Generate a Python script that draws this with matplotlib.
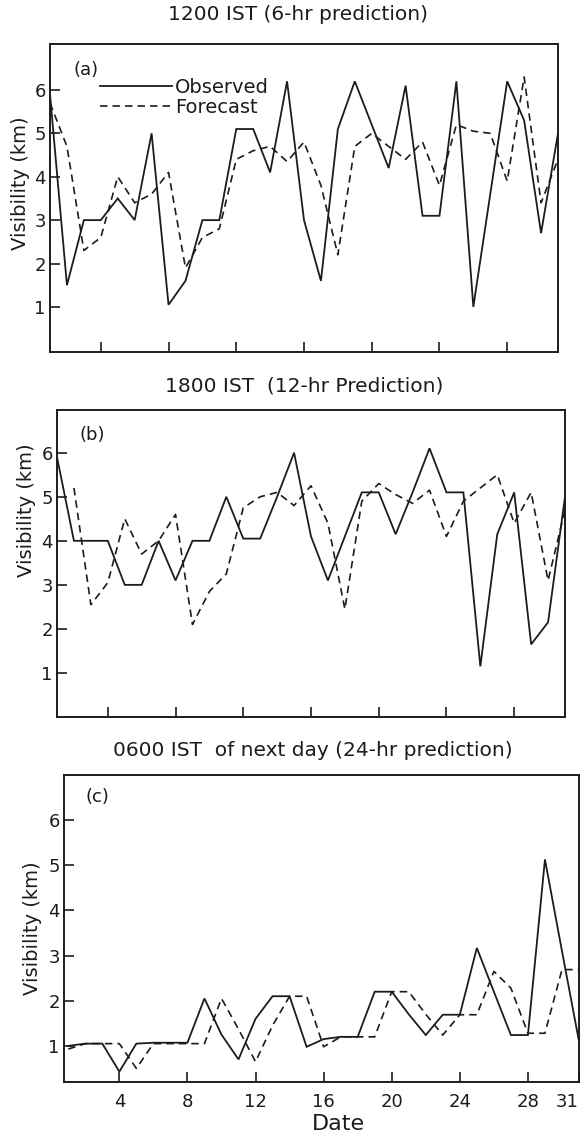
import numpy as np
import matplotlib
matplotlib.use("Agg")
import matplotlib.pyplot as plt
from matplotlib.lines import Line2D

# ---------------- data ----------------
days = np.arange(1, 32)

obs_a = [5.9, 1.5, 3.0, 3.0, 3.5, 3.0, 5.0, 1.05, 1.6, 3.0, 3.0, 5.1, 5.1, 4.1, 6.2, 3.0,
         1.6, 5.1, 6.2, 5.2, 4.2, 6.1, 3.1, 3.1, 6.2, 1.0, 3.6, 6.2, 5.3, 2.7, 5.0]
fc_a = [5.7, 4.7, 2.3, 2.6, 4.0, 3.4, 3.6, 4.1, 1.9, 2.6, 2.8, 4.4, 4.6, 4.7, 4.35, 4.8,
        3.8, 2.2, 4.7, 5.0, 4.7, 4.4, 4.8, 3.8, 5.2, 5.05, 5.0, 3.9, 6.3, 3.4, 4.4]

obs_b = [5.9, 4.0, 4.0, 4.0, 3.0, 3.0, 4.0, 3.1, 4.0, 4.0, 5.0, 4.05, 4.05, 5.0, 6.0, 4.1,
         3.1, 4.1, 5.1, 5.1, 4.15, 5.1, 6.1, 5.1, 5.1, 1.15, 4.15, 5.1, 1.65, 2.15, 5.0]
fc_b = [np.nan, 5.2, 2.55, 3.05, 4.5, 3.7, 4.0, 4.6, 2.1, 2.85, 3.25, 4.75, 5.0, 5.1, 4.8,
        5.25, 4.4, 2.45, 4.9, 5.3, 5.05, 4.85, 5.15, 4.1, 4.9, 5.2, 5.5, 4.4, 5.1, 3.1, 4.7]

obs_c = [1.0, 1.05, 1.05, 0.43, 1.05, 1.07, 1.07, 1.07, 2.05, 1.25, 0.7, 1.6, 2.1, 2.1, 0.98,
         1.15, 1.2, 1.2, 2.2, 2.2, 1.7, 1.24, 1.69, 1.69, 3.17, 2.2, 1.24, 1.24, 5.13, 3.1, 1.1]
fc_c = [0.93, 1.05, 1.05, 1.05, 0.5, 1.05, 1.05, 1.05, 1.05, 2.05, 1.37, 0.65, 1.45, 2.1, 2.1,
        0.98, 1.2, 1.2, 1.2, 2.2, 2.2, 1.7, 1.24, 1.69, 1.69, 2.65, 2.28, 1.28, 1.28, 2.69, 2.69]

titles = ["1200 IST (6-hr prediction)",
          "1800 IST  (12-hr Prediction)",
          "0600 IST  of next day (24-hr prediction)"]
panel_labels = ["(a)", "(b)", "(c)"]
y_ticks = [1, 2, 3, 4, 5, 6]
x_ticks = [4, 8, 12, 16, 20, 24, 28]
x_ticks_c = [4, 8, 12, 16, 20, 24, 28, 31]
legend_labels = ["Observed", "Forecast"]
ylabel = "Visibility (km)"
xlabel = "Date"

# ---------------- layout ----------------
W, H = 585, 1137
INK = "#1c1c1c"


def rect(l, t, r, b):
    return [l / W, 1 - b / H, (r - l) / W, (b - t) / H]


fig = plt.figure(figsize=(W / 100, H / 100), dpi=100)
fig.patch.set_facecolor("white")

boxes = [(50, 44, 558, 352), (57, 410, 565, 717), (64, 775, 579, 1082)]
ylims = [(-0.04, 7.06), (0.0, 6.97), (0.2, 7.0)]
xlims = [(1, 31), (1, 31), (0.75, 30.95)]
title_pos = [(298, 14), (304, 386), (313, 750)]
label_pos = [(86, 70), (92, 435), (97, 797)]
ylabel_pos = [(21, 183), (26, 510), (33, 928)]

series = [(obs_a, fc_a), (obs_b, fc_b), (obs_c, fc_c)]

for i, (obs, fc) in enumerate(series):
    ax = fig.add_axes(rect(*boxes[i]))
    ax.plot(days, obs, color=INK, lw=1.3, solid_joinstyle="miter")
    ax.plot(days, fc, color=INK, lw=1.2, dashes=(4.5, 3.0))
    ax.set_xlim(*xlims[i])
    ax.set_ylim(*ylims[i])
    ax.set_yticks(y_ticks)
    ax.set_yticklabels([str(v) for v in y_ticks])
    if i < 2:
        ax.set_xticks(x_ticks)
        ax.set_xticklabels([])
    else:
        ax.set_xticks(x_ticks_c)
        labels = ax.set_xticklabels([str(v) for v in x_ticks_c])
        labels[-1].set_horizontalalignment("center")
        labels[-1].set_x(30.7)
    ax.tick_params(direction="in", length=7, width=1.2, colors=INK,
                   labelsize=13, labelcolor=INK)
    ax.tick_params(axis="y", pad=3)
    ax.tick_params(axis="x", pad=8)
    for s in ax.spines.values():
        s.set_linewidth(1.4)
        s.set_color(INK)

    fig.text(title_pos[i][0] / W, 1 - title_pos[i][1] / H, titles[i],
             ha="center", va="center", fontsize=14.5, color=INK)
    fig.text(label_pos[i][0] / W, 1 - label_pos[i][1] / H, panel_labels[i],
             ha="center", va="center", fontsize=13, color=INK)
    fig.text(ylabel_pos[i][0] / W, 1 - ylabel_pos[i][1] / H, ylabel,
             ha="center", va="center", rotation=90, fontsize=14, color=INK)

    if i == 0:
        handles = [Line2D([], [], color=INK, lw=1.3),
                   Line2D([], [], color=INK, lw=1.2, dashes=(4.5, 3.0))]
        ax.legend(handles, legend_labels, loc="upper left",
                  bbox_to_anchor=(0.098, 0.89), frameon=False, fontsize=14,
                  handlelength=3.7, handletextpad=0.15, labelspacing=0.05,
                  borderpad=0, borderaxespad=0, labelcolor=INK)

    if i == 2:
        # keep the "31" label inside the canvas
        for lab in ax.get_xticklabels():
            if lab.get_text() == "31":
                lab.set_horizontalalignment("right")

fig.text(338 / W, 1 - 1124 / H, xlabel, ha="center", va="center",
         fontsize=16, color=INK)

fig.savefig("out.png", dpi=100, facecolor="white")
